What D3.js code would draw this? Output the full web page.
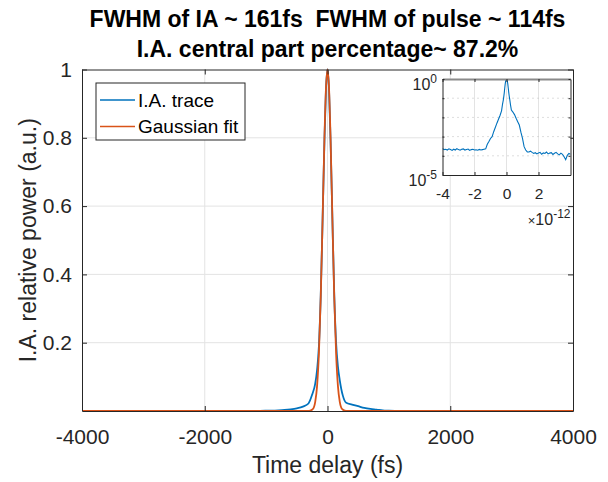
<!DOCTYPE html>
<html>
<head>
<meta charset="utf-8">
<script src="https://cdn.jsdelivr.net/npm/d3@7"></script>
<style>
  body { margin: 0; background: #fff; }
  svg text { font-family: "Liberation Sans", Arial, Helvetica, sans-serif; fill: #262626; }
</style>
</head>
<body>
<div id="viz"></div>
<script>
const width = 608;
const height = 482;
const margin = {top: 69.5, right: 35, bottom: 71, left: 82};
const inset = {left: 442.5, right: 570.5, top: 79, bottom: 175};

const titleLines = ['FWHM of IA ~ 161fs  FWHM of pulse ~ 114fs', 'I.A. central part percentage~ 87.2%'];
const seriesNames = ['I.A. trace', 'Gaussian fit'];
const seriesColors = ['#0072BD', '#D95319'];

// x ticks (fs) and y ticks for the big plot
const xTicks = [-4000, -2000, 0, 2000, 4000];
const yTicks = [0.2, 0.4, 0.6, 0.8, 1];
// inset ticks
const insetXTicks = [-4e-12, -2e-12, 0, 2e-12];
const insetDecades = [0, -1, -2, -3, -4, -5];

// I.A. trace, time delay in fs and normalised power
const traceTime = [
  -4000, -3900, -3800, -3700, -3600, -3500, -3400, -3300, -3200, -3100,
  -3000, -2900, -2800, -2700, -2600, -2500, -2400, -2300, -2200, -2100,
  -2000, -1900, -1800, -1700, -1600, -1500, -1400,
  -1300, -1200, -1100, -1000, -900, -800, -700, -600, -500, -400,
  -310, -250, -200, -170, -140, -110, -80, -50, -25, 0,
  25, 50, 80, 110, 140, 170, 200, 250, 305, 400,
  500, 600, 700, 800, 900, 1000, 1100, 1200, 1300,
  1400, 1500, 1600, 1700, 1800, 1900, 2000, 2100, 2200, 2300,
  2400, 2500, 2600, 2700, 2800, 2900, 3000, 3100, 3200, 3300,
  3400, 3500, 3600, 3700, 3800, 3900, 4000
];
const traceValue = [
  2.4e-4, 2.1e-4, 2.2e-4, 2.0e-4, 2.3e-4, 2.1e-4, 1.9e-4, 2.2e-4, 2.0e-4, 2.35e-4,
  2.1e-4, 1.95e-4, 2.2e-4, 2.3e-4, 2.0e-4, 2.15e-4, 2.25e-4, 1.9e-4, 2.1e-4, 2.2e-4,
  2.0e-4, 2.05e-4, 1.95e-4, 2.15e-4, 2.0e-4, 2.1e-4, 2.2e-4,
  2.3e-4, 4.0e-4, 5.5e-4, 8.0e-4, 1.0e-3, 1.8e-3, 3.0e-3, 5.0e-3, 8.0e-3, 0.013,
  0.022, 0.048, 0.08, 0.12, 0.19, 0.34, 0.56, 0.79, 0.94, 1,
  0.94, 0.79, 0.56, 0.34, 0.2, 0.13, 0.09, 0.045, 0.024, 0.019,
  0.014, 0.009, 0.006, 0.004, 1.7e-3, 8.0e-4, 3.0e-4, 2.0e-4, 1.6e-4,
  1.58e-4, 1.74e-4, 1.51e-4, 1.32e-4, 1.45e-4, 1.26e-4, 1.38e-4, 1.51e-4, 1.2e-4, 1.41e-4,
  1.32e-4, 1.58e-4, 1.26e-4, 1.38e-4, 1.45e-4, 1.17e-4, 1.35e-4, 1.51e-4, 1.26e-4, 1.12e-4,
  1.38e-4, 1.2e-4, 8.9e-5, 6.3e-5, 1.05e-4, 1.32e-4, 1.2e-4
];

// Gaussian fit samples (fs, normalised)
const gaussTime = [-4000, -400, -300, -240, -200, -170, -140, -110, -80, -50, -25, 0,
  25, 50, 80, 110, 140, 170, 200, 240, 300, 400, 4000];
const gaussValue = [0, 0, 0.0003, 0.0054, 0.027, 0.073, 0.169, 0.334, 0.56, 0.797, 0.945, 1,
  0.945, 0.797, 0.56, 0.334, 0.169, 0.073, 0.027, 0.0054, 0.0003, 0, 0];

const trace = traceTime.map((t, i) => ({t: t, v: traceValue[i]}));
const gauss = gaussTime.map((t, i) => ({t: t, v: gaussValue[i]}));

const svg = d3.select('#viz')
  .append('svg')
  .attr('width', width)
  .attr('height', height)
  .attr('viewBox', [0, 0, width, height]);

const x = d3.scaleLinear().domain([-4000, 4000]).range([margin.left, width - margin.right]);
const y = d3.scaleLinear().domain([0, 1]).range([height - margin.bottom, margin.top]);

const axisColor = '#262626';
const gridColor = '#e3e3e3';

// grid
svg.append('g')
  .selectAll('line.vx')
  .data(xTicks.slice(1, -1))
  .join('line')
    .attr('x1', d => x(d)).attr('x2', d => x(d))
    .attr('y1', y(0)).attr('y2', y(1))
    .attr('stroke', gridColor).attr('stroke-width', 1);
svg.append('g')
  .selectAll('line')
  .data(yTicks.slice(0, -1))
  .join('line')
    .attr('x1', x(-4000)).attr('x2', x(4000))
    .attr('y1', d => y(d)).attr('y2', d => y(d))
    .attr('stroke', gridColor).attr('stroke-width', 1);

// clip for the curves
svg.append('clipPath').attr('id', 'mainclip')
  .append('rect')
  .attr('x', x(-4000)).attr('y', y(1) - 2)
  .attr('width', x(4000) - x(-4000)).attr('height', y(0) - y(1) + 2);

const line = d3.line()
  .x(d => x(d.t))
  .y(d => y(d.v))
  .curve(d3.curveMonotoneX);

const curves = svg.append('g').attr('clip-path', 'url(#mainclip)');
curves.append('path')
  .attr('d', line(trace))
  .attr('fill', 'none')
  .attr('stroke', seriesColors[0])
  .attr('stroke-width', 1.8);
curves.append('path')
  .attr('d', line(gauss))
  .attr('fill', 'none')
  .attr('stroke', seriesColors[1])
  .attr('stroke-width', 1.8);

// axes, ticks pointing inward like matlab
const styleAxis = g => {
  g.select('.domain').attr('stroke', axisColor);
  g.selectAll('.tick line').attr('stroke', axisColor);
  g.selectAll('.tick text').attr('fill', axisColor);
};

svg.append('g')
  .attr('transform', `translate(0, ${y(0)})`)
  .call(d3.axisBottom(x).tickValues(xTicks).tickSizeInner(-5).tickSizeOuter(0).tickPadding(18)
    .tickFormat(d => String(d)))
  .call(g => g.selectAll('text').style('font-size', '21px').attr('dy', '0.71em'))
  .call(styleAxis);
svg.append('g')
  .attr('transform', `translate(0, ${y(1)})`)
  .call(d3.axisTop(x).tickValues(xTicks).tickSizeInner(-5).tickSizeOuter(0).tickFormat(''))
  .call(styleAxis);
svg.append('g')
  .attr('transform', `translate(${x(-4000)}, 0)`)
  .call(d3.axisLeft(y).tickValues(yTicks).tickSizeInner(-5).tickSizeOuter(0).tickPadding(10)
    .tickFormat(d => String(d)))
  .call(g => g.selectAll('text').style('font-size', '21px'))
  .call(styleAxis);
svg.append('g')
  .attr('transform', `translate(${x(4000)}, 0)`)
  .call(d3.axisRight(y).tickValues(yTicks).tickSizeInner(-5).tickSizeOuter(0).tickFormat(''))
  .call(styleAxis);

// axis labels
svg.append('text')
  .attr('x', (x(-4000) + x(4000)) / 2)
  .attr('y', 473)
  .attr('text-anchor', 'middle')
  .style('font-size', '23px')
  .text('Time delay (fs)');
svg.append('text')
  .attr('transform', `translate(36, ${(y(0) + y(1)) / 2}) rotate(-90)`)
  .attr('text-anchor', 'middle')
  .style('font-size', '23px')
  .text('I.A. relative power (a.u.)');

// title
svg.append('g')
  .selectAll('text')
  .data(titleLines)
  .join('text')
    .attr('x', (x(-4000) + x(4000)) / 2)
    .attr('y', (d, i) => 27 + i * 30)
    .attr('text-anchor', 'middle')
    .style('font-size', '23px')
    .style('font-weight', 'bold')
    .style('white-space', 'pre')
    .style('fill', '#000')
    .text(d => d);

// legend
const legend = svg.append('g').attr('transform', 'translate(96, 83)');
legend.append('rect')
  .attr('width', 149).attr('height', 57)
  .attr('fill', '#fff')
  .attr('stroke', axisColor).attr('stroke-width', 1);
seriesNames.forEach((name, i) => {
  const ly = 17 + i * 26.5;
  legend.append('line')
    .attr('x1', 4).attr('x2', 39)
    .attr('y1', ly).attr('y2', ly)
    .attr('stroke', seriesColors[i]).attr('stroke-width', 1.5);
  legend.append('text')
    .attr('x', 42).attr('y', ly)
    .attr('dy', '0.35em')
    .style('font-size', '19px')
    .style('fill', '#000')
    .text(name);
});

// ---- inset, log scale ----
const ix = d3.scaleLinear().domain([-4e-12, 4e-12]).range([inset.left, inset.right]);
const iy = d3.scaleLog().domain([1e-5, 1]).range([inset.bottom, inset.top]);

const ins = svg.append('g').attr('class', 'inset');
ins.append('rect')
  .attr('x', inset.left).attr('y', inset.top)
  .attr('width', inset.right - inset.left).attr('height', inset.bottom - inset.top)
  .attr('fill', '#fff');

// major vertical grid
ins.append('g')
  .selectAll('line')
  .data(insetXTicks.slice(1))
  .join('line')
    .attr('x1', d => ix(d)).attr('x2', d => ix(d))
    .attr('y1', inset.top).attr('y2', inset.bottom)
    .attr('stroke', gridColor);
// minor (decade) grid, dotted
ins.append('g')
  .selectAll('line')
  .data(insetDecades.slice(1, -1))
  .join('line')
    .attr('x1', inset.left).attr('x2', inset.right)
    .attr('y1', d => iy(Math.pow(10, d))).attr('y2', d => iy(Math.pow(10, d)))
    .attr('stroke', '#bdbdbd')
    .attr('stroke-dasharray', '1,4');

ins.append('clipPath').attr('id', 'insetclip')
  .append('rect')
  .attr('x', inset.left).attr('y', inset.top)
  .attr('width', inset.right - inset.left).attr('height', inset.bottom - inset.top);

const insetLine = d3.line()
  .x(d => ix(d.t * 1e-15))
  .y(d => iy(d.v))
  .curve(d3.curveLinear);

ins.append('path')
  .attr('clip-path', 'url(#insetclip)')
  .attr('d', insetLine(trace))
  .attr('fill', 'none')
  .attr('stroke', seriesColors[0])
  .attr('stroke-width', 1.1);

// inset box and ticks
ins.append('g')
  .attr('transform', `translate(0, ${inset.bottom})`)
  .call(d3.axisBottom(ix).tickValues(insetXTicks).tickSizeInner(-3).tickSizeOuter(0).tickPadding(13)
    .tickFormat(d => String(Math.round(d / 1e-12))))
  .call(g => g.selectAll('text').style('font-size', '15.5px').attr('dy', '0.71em'))
  .call(styleAxis);
ins.append('g')
  .attr('transform', `translate(0, ${inset.top})`)
  .call(d3.axisTop(ix).tickValues(insetXTicks).tickSizeInner(-3).tickSizeOuter(0).tickFormat(''))
  .call(g => g.select('.domain').attr('stroke', '#8a8a8a').attr('stroke-width', 2))
  .call(g => g.selectAll('.tick line').attr('stroke', axisColor));
ins.append('g')
  .attr('transform', `translate(${inset.left}, 0)`)
  .call(d3.axisLeft(iy).tickValues(insetDecades.map(d => Math.pow(10, d))).tickSizeInner(-2).tickSizeOuter(0).tickFormat(''))
  .call(styleAxis);
ins.append('g')
  .attr('transform', `translate(${inset.right}, 0)`)
  .call(d3.axisRight(iy).tickValues(insetDecades.map(d => Math.pow(10, d))).tickSizeInner(-2).tickSizeOuter(0).tickFormat(''))
  .call(styleAxis);

// log tick labels 10^0 and 10^-5
[0, -5].forEach(p => {
  const t = ins.append('text')
    .attr('x', inset.left - 5.5)
    .attr('y', iy(Math.pow(10, p)) + 11)
    .attr('text-anchor', 'end')
    .style('font-size', '16px');
  t.append('tspan').text('10');
  t.append('tspan').attr('dy', -7).style('font-size', '12px').text(p);
});
// exponent label below the inset x axis
const ex = ins.append('text')
  .attr('x', inset.right)
  .attr('y', inset.bottom + 50)
  .attr('text-anchor', 'end')
  .style('font-size', '16px');
ex.append('tspan').style('font-size', '13px').text('\u00d7');
ex.append('tspan').text('10');
ex.append('tspan').attr('dy', -7).style('font-size', '12px').text('-12');
</script>
</body>
</html>
